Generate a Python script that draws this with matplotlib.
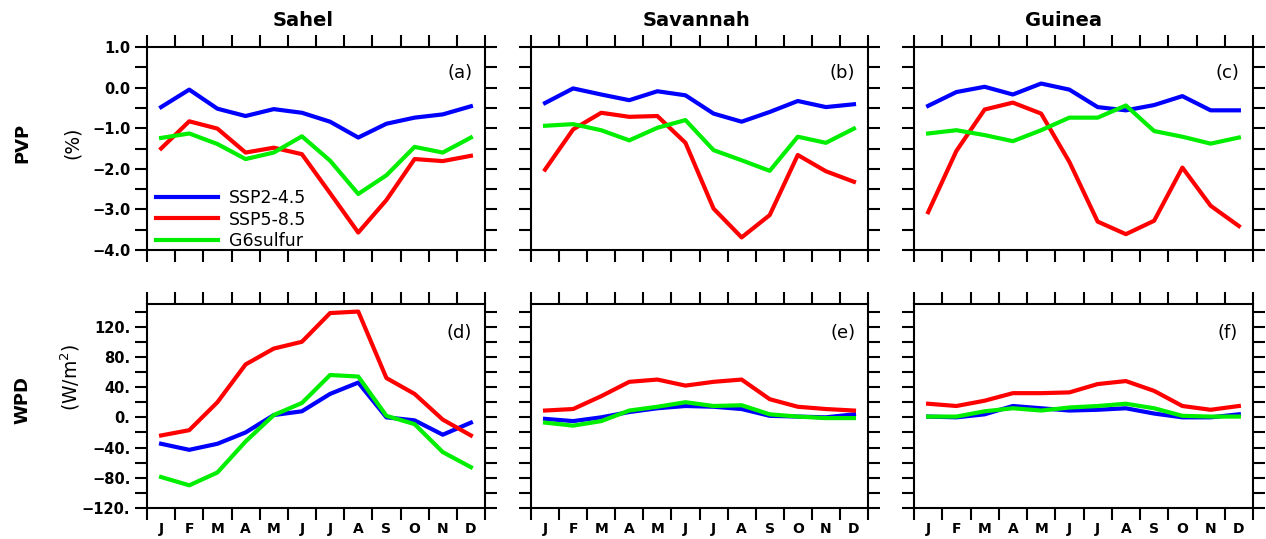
import numpy as np
import matplotlib
matplotlib.use("Agg")
import matplotlib.pyplot as plt
from matplotlib.ticker import MultipleLocator, FixedLocator

months = ["J", "F", "M", "A", "M", "J", "J", "A", "S", "O", "N", "D"]
regions = ["Sahel", "Savannah", "Guinea"]
scenarios = ["SSP2-4.5", "SSP5-8.5", "G6sulfur"]
colors = ["#0000ff", "#ff0000", "#00ee00"]

# PVP (%) per region: SSP2-4.5, SSP5-8.5, G6sulfur
pvp_sahel_ssp245 = [-0.48, -0.05, -0.52, -0.70, -0.53, -0.62, -0.84, -1.23, -0.89, -0.74, -0.66, -0.46]
pvp_sahel_ssp585 = [-1.50, -0.83, -1.01, -1.60, -1.48, -1.64, -2.60, -3.57, -2.77, -1.76, -1.81, -1.68]
pvp_sahel_g6 = [-1.24, -1.13, -1.39, -1.76, -1.60, -1.20, -1.80, -2.62, -2.16, -1.46, -1.60, -1.23]

pvp_sav_ssp245 = [-0.38, -0.02, -0.17, -0.31, -0.09, -0.19, -0.64, -0.84, -0.60, -0.33, -0.48, -0.41]
pvp_sav_ssp585 = [-2.02, -1.03, -0.62, -0.72, -0.70, -1.36, -2.98, -3.69, -3.14, -1.66, -2.06, -2.32]
pvp_sav_g6 = [-0.94, -0.90, -1.05, -1.30, -0.99, -0.80, -1.54, -1.79, -2.05, -1.21, -1.36, -1.01]

pvp_gui_ssp245 = [-0.45, -0.11, 0.02, -0.17, 0.10, -0.05, -0.48, -0.56, -0.43, -0.21, -0.56, -0.56]
pvp_gui_ssp585 = [-3.07, -1.56, -0.54, -0.37, -0.64, -1.83, -3.30, -3.61, -3.28, -1.97, -2.91, -3.41]
pvp_gui_g6 = [-1.13, -1.05, -1.17, -1.32, -1.05, -0.74, -0.74, -0.44, -1.07, -1.21, -1.38, -1.23]

# WPD (W/m2)
wpd_sahel_ssp245 = [-35, -43, -35, -20, 3, 8, 31, 46, 0, -4, -23, -7]
wpd_sahel_ssp585 = [-24, -17, 20, 70, 91, 100, 138, 140, 52, 31, -3, -24]
wpd_sahel_g6 = [-79, -90, -73, -32, 3, 19, 56, 54, 2, -9, -46, -66]

wpd_sav_ssp245 = [-2, -5, 0, 7, 12, 15, 14, 11, 2, 1, 0, 4]
wpd_sav_ssp585 = [9, 11, 28, 47, 50, 42, 47, 50, 24, 14, 11, 9]
wpd_sav_g6 = [-7, -11, -5, 9, 14, 20, 15, 16, 4, 1, -1, -1]

wpd_gui_ssp245 = [1, 0, 4, 15, 12, 9, 10, 12, 5, 0, 0, 4]
wpd_gui_ssp585 = [18, 15, 22, 32, 32, 33, 44, 48, 35, 15, 10, 15]
wpd_gui_g6 = [1, 1, 8, 12, 9, 13, 15, 18, 12, 2, 1, 1]

pvp = [[pvp_sahel_ssp245, pvp_sahel_ssp585, pvp_sahel_g6],
       [pvp_sav_ssp245, pvp_sav_ssp585, pvp_sav_g6],
       [pvp_gui_ssp245, pvp_gui_ssp585, pvp_gui_g6]]
wpd = [[wpd_sahel_ssp245, wpd_sahel_ssp585, wpd_sahel_g6],
       [wpd_sav_ssp245, wpd_sav_ssp585, wpd_sav_g6],
       [wpd_gui_ssp245, wpd_gui_ssp585, wpd_gui_g6]]

W, H = 1266, 539
fig = plt.figure(figsize=(W / 100, H / 100), dpi=100)

lefts = [147, 531, 914]
widths = [338, 337, 339]
tops = [47, 304]
heights = [203, 204]
title_x = [303, 697, 1063]
letters = [["(a)", "(b)", "(c)"], ["(d)", "(e)", "(f)"]]

x = np.arange(1, 13)


def style_axis(ax, row, col):
    ax.set_xlim(0.5, 12.5)
    ax.xaxis.set_major_locator(FixedLocator(np.arange(0.5, 13, 1)))
    ax.xaxis.set_minor_locator(FixedLocator(x))
    ax.tick_params(axis="both", which="both", direction="out", length=8.5,
                   width=1.5, top=True, right=True)
    ax.tick_params(axis="x", which="major", labelbottom=False)
    ax.tick_params(axis="x", which="minor", length=0, pad=10)
    if row == 1:
        ax.set_xticks(x, months, minor=True)
        for t in ax.get_xticklabels(minor=True):
            t.set_fontweight("bold")
            t.set_fontsize(10)
    else:
        ax.tick_params(axis="x", which="minor", labelbottom=False)
    for s in ax.spines.values():
        s.set_linewidth(1.5)
    if row == 0:
        ax.set_ylim(-4.0, 1.0)
        ax.yaxis.set_major_locator(MultipleLocator(1.0))
        ax.yaxis.set_minor_locator(MultipleLocator(0.5))
        ax.yaxis.set_major_formatter(lambda v, p: ("%.1f" % v).replace("-", "\u2212"))
    else:
        ax.set_ylim(-120, 150)
        ax.yaxis.set_major_locator(FixedLocator(np.arange(-120, 121, 40)))
        ax.yaxis.set_minor_locator(FixedLocator(np.arange(-120, 150, 20)))
        ax.yaxis.set_major_formatter(lambda v, p: ("%d." % v).replace("-", "\u2212"))
    ax.tick_params(axis="y", labelsize=10.5)
    for t in ax.get_yticklabels():
        t.set_fontweight("bold")
    if col > 0:
        ax.tick_params(axis="y", labelleft=False)


for row, data in enumerate([pvp, wpd]):
    for col in range(3):
        l = lefts[col] / W
        b = 1 - (tops[row] + heights[row]) / H
        ax = fig.add_axes([l, b, widths[col] / W, heights[row] / H])
        for k in range(3):
            ax.plot(x, data[col][k], color=colors[k], lw=3, label=scenarios[k],
                    solid_joinstyle="round")
        style_axis(ax, row, col)
        ax.text(0.925, 0.87 if row == 0 else 0.86, letters[row][col], transform=ax.transAxes,
                ha="center", va="center", fontsize=13)
        if row == 0 and col == 0:
            ax.legend(loc="lower left", bbox_to_anchor=(-0.01, -0.06), frameon=False,
                      fontsize=12.5, handlelength=3.6, handletextpad=0.6,
                      labelspacing=0.2, borderaxespad=0.3)

for col in range(3):
    fig.text(title_x[col] / W, 1 - 20 / H, regions[col], ha="center", va="center",
             fontsize=14, fontweight="bold")

fig.text(22 / W, 1 - 143 / H, "PVP", rotation=90, ha="center", va="center",
         fontsize=13, fontweight="bold")
fig.text(72 / W, 1 - 143 / H, "(%)", rotation=90, ha="center", va="center", fontsize=13.5)
fig.text(22 / W, 1 - 400 / H, "WPD", rotation=90, ha="center", va="center",
         fontsize=13, fontweight="bold")
fig.text(70 / W, 1 - 377 / H, "(W/m$^2$)", rotation=90, ha="center", va="center", fontsize=13.5)

fig.savefig("out.png", dpi=100)
